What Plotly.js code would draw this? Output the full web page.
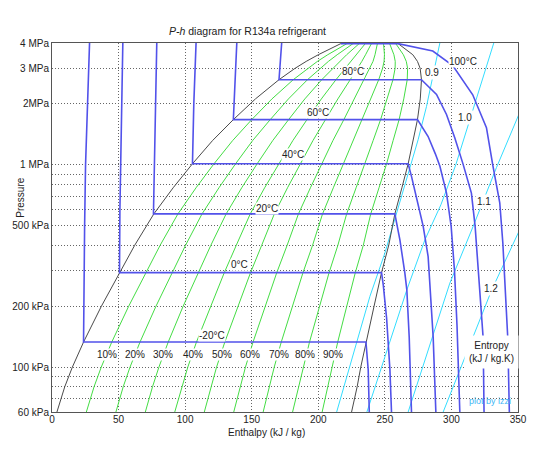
<!DOCTYPE html>
<html><head><meta charset="utf-8">
<script src="https://cdn.plot.ly/plotly-3.0.1.min.js"></script>
<style>html,body{margin:0;padding:0;background:#fff}#chart{width:560px;height:473px}</style>
</head><body><div id="chart"></div>
<script>
// Saturation dome (pressure in kPa, enthalpy in kJ/kg)
const satP  = [60, 80, 100, 133, 200, 293, 400, 572, 770, 1012, 1318, 1672, 2117, 2635, 3000, 3244, 3500, 3972, 4059];
const satHl = [3.7, 9.6, 15.3, 23.7, 37.1, 50.7, 62.1, 76.5, 91, 105.5, 120.6, 136.2, 152.8, 170.5, 182.6, 190.9, 200, 216.9, 237.6];
const satHv = [225, 229.2, 231.9, 235.8, 241.9, 247.5, 252.9, 257.5, 262.8, 267.5, 271.3, 274.5, 276.6, 277.5, 276.5, 274.5, 271, 260, 237.6];

// Vapour-quality lines (same pressures as satP)
const qualityNames = ['10%','20%','30%','40%','50%','60%','70%','80%','90%'];
const q10 = [25.8, 31.6, 37.0, 44.9, 57.6, 70.4, 81.2, 94.6, 108.2, 121.7, 135.7, 150.0, 165.2, 181.2, 192.0, 199.3, 207.1, 221.5, 237.6];
const q20 = [48.0, 53.5, 58.6, 66.1, 78.1, 90.1, 100.3, 112.7, 125.4, 137.9, 150.7, 163.9, 177.6, 191.9, 201.4, 207.6, 214.2, 226.1, 237.6];
const q30 = [70.1, 75.5, 80.3, 87.3, 98.5, 109.7, 119.3, 130.8, 142.5, 154.1, 165.8, 177.7, 189.9, 202.6, 210.8, 216.0, 221.3, 230.7, 237.6];
const q40 = [92.2, 97.4, 102.0, 108.5, 119.0, 129.4, 138.4, 148.9, 159.7, 170.3, 180.9, 191.5, 202.3, 213.3, 220.2, 224.3, 228.4, 235.3, 237.6];
const q50 = [114.4, 119.4, 123.6, 129.8, 139.5, 149.1, 157.5, 167.0, 176.9, 186.5, 196.0, 205.4, 214.7, 224.0, 229.6, 232.7, 235.5, 239.9, 237.6];
const q60 = [136.5, 141.4, 145.3, 151.0, 160.0, 168.8, 176.6, 185.1, 194.1, 202.7, 211.0, 219.2, 227.1, 234.7, 239.0, 241.1, 242.6, 244.4, 237.6];
const q70 = [158.6, 163.3, 166.9, 172.2, 180.5, 188.5, 195.7, 203.2, 211.3, 218.9, 226.1, 233.0, 239.5, 245.4, 248.3, 249.4, 249.7, 249.0, 237.6];
const q80 = [180.7, 185.3, 188.6, 193.4, 201.0, 208.1, 214.7, 221.3, 228.4, 235.1, 241.2, 246.8, 251.8, 256.1, 257.7, 257.8, 256.8, 253.6, 237.6];
const q90 = [202.9, 207.2, 210.2, 214.6, 221.4, 227.8, 233.8, 239.4, 245.6, 251.3, 256.2, 260.7, 264.2, 266.8, 267.1, 266.1, 263.9, 258.2, 237.6];
const qualityLabelH = [41.2, 62.5, 83.7, 106.2, 127.5, 148.7, 170.5, 190, 211.3];
const qualityLabelP = 115;

// Isotherms (°C)
const tempNames = ['-20°C','0°C','20°C','40°C','60°C','80°C','100°C'];
const isoM20H = [28.2, 26.5, 25.2, 24.5, 23.7, 235.8, 237.5, 238.3];
const isoM20P = [4000, 2000, 1000, 500, 133, 133, 97, 60];
const iso0H = [53.2, 52.3, 51.5, 51, 50.7, 247.5, 248.8, 250, 251.3, 253.8, 255];
const iso0P = [4000, 2000, 1000, 600, 293, 293, 255, 215, 175, 97, 60];
const iso20H = [78.7, 77.8, 77, 76.2, 257.5, 261.3, 265, 266.5, 268.3, 270];
const iso20P = [4000, 2000, 1000, 572, 572, 426, 292, 241, 140, 60];
const iso40H = [108.2, 106.5, 105.5, 267.5, 270, 273, 278.8, 282.5, 284.2, 286.3, 288.3];
const iso40P = [4000, 2000, 1012, 1012, 877, 725, 496, 352, 241, 140, 60];
const iso60H = [138.8, 137.5, 136.2, 274.5, 282.5, 288, 291.3, 296.3, 299.8, 302.3, 304.2, 306.3];
const iso60P = [4000, 2500, 1672, 1672, 1380, 1130, 986, 725, 496, 300, 160, 60];
const iso80H = [172.5, 170.5, 277.5, 288.8, 296.3, 302.5, 308.8, 315, 317.8, 321.3, 323.8, 324.5];
const iso80P = [4000, 2635, 2635, 2228, 1774, 1361, 1005, 725, 496, 241, 140, 60];
const iso100H = [216.9, 260, 286, 301, 316, 326.3, 331, 336.3, 338.6, 340.2, 342.3, 343.5];
const iso100P = [3972, 3972, 3650, 3091, 2219, 1525, 1001, 649, 412, 241, 140, 60];
const tempLabelH = [120, 140.8, 161.3, 181.2, 200, 225.8, 308.8];
const tempLabelP = [143.5, 323, 611, 1122, 1816, 2896, 3244];

// Isentropes (kJ/kg.K)
const entropyNames = ['0.9','1.0','1.1','1.2'];
const s09H = [291.3, 281.3, 275, 267.5, 258.8, 250, 238.8, 213.8];
const s09P = [4000, 1944, 1331, 911, 578, 366, 224, 60];
const s10H = [331.8, 314.5, 303.3, 292.1, 280.1, 266.5, 236.5];
const s10P = [4000, 1729, 1001, 635, 426, 241, 60];
const s11H = [355.3, 333.8, 316.3, 298.8, 267.5];
const s11P = [2098, 968, 496, 260, 60];
const s12H = [358.3, 351.3, 330.3, 293.8];
const s12P = [635, 478, 241, 60];
const entropyLabelH = [285.3, 310, 324.3, 330];
const entropyLabelP = [2853, 1723, 655, 244];

// Axis ticks
const xTicks = [0, 50, 100, 150, 200, 250, 300, 350];
const yTickVals = [60, 70, 80, 90, 100, 200, 300, 400, 500, 600, 700, 800, 900, 1000, 2000, 3000, 4000];
const yTickText = ['60 kPa','','','','100 kPa','200 kPa','','','500 kPa','','','','','1 MPa','2MPa','3 MPa','4 MPa'];

const BLUE = '#5252ea', GREEN = '#44dd44', CYAN = '#33ddff', DOME = '#4a4a4a';
const traces = [];
function line(x, y, color, width) {
  traces.push({type: 'scatter', mode: 'lines', x: x, y: y, line: {color: color, width: width}, hoverinfo: 'skip', showlegend: false});
}
[q10, q20, q30, q40, q50, q60, q70, q80, q90].forEach(q => line(q, satP, GREEN, 1));
[[s09H, s09P], [s10H, s10P], [s11H, s11P], [s12H, s12P]].forEach(s => line(s[0], s[1], CYAN, 1));
line(satHl.concat(satHv.slice().reverse()), satP.concat(satP.slice().reverse()), DOME, 1);
[[isoM20H, isoM20P], [iso0H, iso0P], [iso20H, iso20P], [iso40H, iso40P], [iso60H, iso60P], [iso80H, iso80P], [iso100H, iso100P]]
  .forEach(t => line(t[0], t[1], BLUE, 1.6));

const FONT = 'Liberation Sans, Arial, sans-serif';
const ann = [];
function label(text, x, y, size, extra) {
  ann.push(Object.assign({text: text, x: x, y: Math.log10(y), xref: 'x', yref: 'y', showarrow: false,
    xanchor: 'center', yanchor: 'middle',
    font: {family: FONT, size: size, color: '#222'}, bgcolor: '#fff', borderpad: 0}, extra || {}));
}
tempNames.forEach((t, i) => label(t, tempLabelH[i], tempLabelP[i], 10));
qualityNames.forEach((t, i) => label(t, qualityLabelH[i], qualityLabelP, 10));
entropyNames.forEach((t, i) => label(t, entropyLabelH[i], entropyLabelP[i], 10, {borderpad: 1}));

function paperText(text, x, y, size, color, extra) {
  ann.push(Object.assign({text: text, xref: 'paper', yref: 'paper', x: x, y: y, xanchor: 'center', yanchor: 'middle',
    showarrow: false, font: {family: FONT, size: size, color: color}}, extra || {}));
}
paperText('Entropy<br>(kJ / kg.K)', 0.9436, 0.163, 10, '#222', {bgcolor: '#fff', borderpad: 4, align: 'center'});
paperText('plot by izzi', 0.9404, 0.031, 9, '#3fb6f5');
paperText('Enthalpy (kJ / kg)', 0.4593, -0.0555, 10, '#222');
paperText('Pressure', -0.0664, 0.5808, 10, '#222', {textangle: -90});

const layout = {
  width: 560, height: 473,
  margin: {l: 52, r: 42, t: 43, b: 61, pad: 0},
  paper_bgcolor: '#fff', plot_bgcolor: '#fff',
  title: {text: '<i>P-h</i> diagram for R134a refrigerant', x: 0.442, xanchor: 'center', y: 0.933, yanchor: 'middle',
    font: {family: FONT, size: 10.5, color: '#222'}},
  xaxis: {range: [0, 350], tickvals: xTicks, ticktext: xTicks.map(String), showgrid: true, gridcolor: '#666',
    griddash: '1px,2px', gridwidth: 1, zeroline: false, showline: true, mirror: true, linecolor: '#555', linewidth: 1,
    ticks: '', ticklabelstandoff: -2, tickfont: {family: FONT, size: 10, color: '#222'}, automargin: false},
  yaxis: {type: 'log', range: [Math.log10(60), Math.log10(4000)], tickvals: yTickVals, ticktext: yTickText,
    showgrid: true, gridcolor: '#666', griddash: '1px,2px', gridwidth: 1, zeroline: false, showline: true, mirror: true,
    linecolor: '#555', linewidth: 1, ticks: '', tickfont: {family: FONT, size: 10, color: '#222'}, automargin: false},
  annotations: ann,
  showlegend: false
};
Plotly.newPlot('chart', traces, layout, {staticPlot: true, displayModeBar: false});
</script></body></html>
